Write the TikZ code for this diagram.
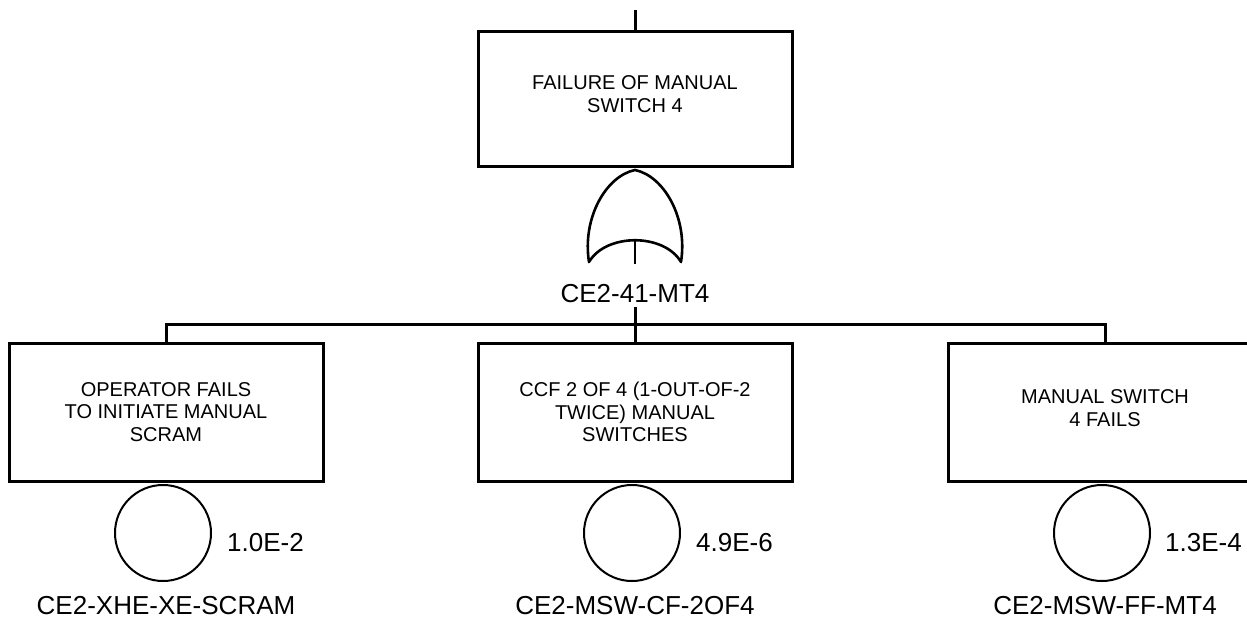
\documentclass[tikz,border=0pt]{standalone}
\usepackage{fontspec}
\setmainfont{Liberation Sans}
\usetikzlibrary{positioning}
\newcommand{\evfont}{\fontsize{20}{22.5}\selectfont}
\newcommand{\idfont}{\fontsize{26}{30}\selectfont}
\tikzset{
  evbox/.style={draw,line width=3pt,minimum width=314pt,minimum height=138pt,
              align=center,inner sep=0pt,font=\evfont},
  basicev/.style={draw,circle,line width=2pt,minimum size=96pt,inner sep=0pt},
  idtag/.style={font=\idfont,inner sep=0pt},
  link/.style={line width=3pt},
  gateline/.style={line width=2.6pt,line join=round}
}

\begin{document}
\begin{tikzpicture}[x=1pt,y=-1pt]
  \path[use as bounding box,clip] (0,0) rectangle (1247,620);

  % top event and OR gate
  \coordinate (topin) at (635,10);
  \node[evbox,minimum height=135pt,text depth=11pt] (top) at (635,99.5) {FAILURE OF MANUAL\\SWITCH 4};
  \draw[gateline] (589,262) .. controls (582,218) and (606,176) .. (635,170)
    .. controls (664,176) and (688,218) .. (681,262)
    .. controls (664,233) and (606,233) .. (589,262) -- cycle;
  \coordinate (gatefoot) at (635,240);
  \node[idtag,anchor=base,text height=38pt,text depth=5pt] (gatetag) at (635,302) {CE2-41-MT4};
  \coordinate (bar) at (635,324);
  \coordinate (namerow) at (0,614);

  % basic events
  \node[evbox] (lbox) at (166,412) {OPERATOR FAILS\\TO INITIATE MANUAL\\SCRAM};
  \node[evbox] (mbox) at (635,412) {CCF 2 OF 4 (1-OUT-OF-2\\TWICE) MANUAL\\SWITCHES};
  \node[evbox,text depth=8pt] (rbox) at (1105,412) {MANUAL SWITCH\\4 FAILS};

  \node[basicev,below=1.5pt of lbox,xshift=-3pt] (lev) {};
  \node[basicev,below=1.5pt of mbox,xshift=-3pt] (mev) {};
  \node[basicev,below=1.5pt of rbox,xshift=-3pt] (rev) {};

  \node[idtag,right=15pt of lev,yshift=-10pt] (lprob) {1.0E-2};
  \node[idtag,right=15pt of mev,yshift=-10pt] (mprob) {4.9E-6};
  \node[idtag,right=14pt of rev,yshift=-10pt] (rprob) {1.3E-4};

  \node[idtag,anchor=base] (lname) at (lbox |- namerow) {CE2-XHE-XE-SCRAM};
  \node[idtag,anchor=base] (mname) at (mbox |- namerow) {CE2-MSW-CF-2OF4};
  \node[idtag,anchor=base] (rname) at (rbox |- namerow) {CE2-MSW-FF-MT4};

  \draw[link] (topin) -- (top);
  \draw[gateline] (gatefoot) -- (gatetag);
  \draw[link] (gatetag) -- (bar) -- (mbox);
  \draw[link] (lbox) |- (bar) -| (rbox);
\end{tikzpicture}
\end{document}
